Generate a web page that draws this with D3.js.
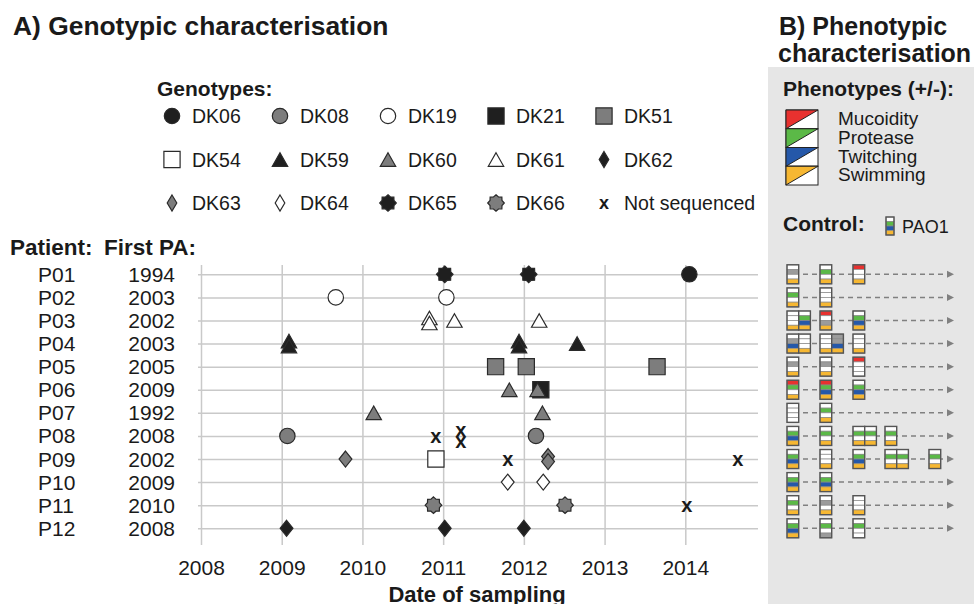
<!DOCTYPE html>
<html>
<head>
<meta charset="utf-8">
<script src="https://cdn.jsdelivr.net/npm/d3@7"></script>
<style>
  body { margin: 0; background: #fff; }
  svg text { font-family: "Liberation Sans", Arial, sans-serif; fill: #1a1a1a; }
</style>
</head>
<body>
<svg id="chart" width="974" height="604"></svg>
<script>
// Genotypic timeline (A) + phenotype boxes (B)

const patients = ["P01", "P02", "P03", "P04", "P05", "P06", "P07", "P08", "P09", "P10", "P11", "P12"];
const firstPA = ["1994", "2003", "2002", "2003", "2005", "2009", "1992", "2008", "2002", "2009", "2010", "2008"];
const yearTicks = [2008, 2009, 2010, 2011, 2012, 2013, 2014];

const legendRows = [
  ["DK06", "DK08", "DK19", "DK21", "DK51"],
  ["DK54", "DK59", "DK60", "DK61", "DK62"],
  ["DK63", "DK64", "DK65", "DK66", "NS"]
];
const legendNames = { NS: "Not sequenced" };

// [patient, sampling date (decimal year), genotype]
const samples = [
  ["P01", 2011.02, "DK65"], ["P01", 2012.06, "DK65"], ["P01", 2014.05, "DK06"],
  ["P02", 2009.67, "DK19"], ["P02", 2011.04, "DK19"],
  ["P03", 2010.83, "DK61"], ["P03", 2010.83, "DK61"], ["P03", 2011.14, "DK61"], ["P03", 2012.19, "DK61"],
  ["P04", 2009.09, "DK59"], ["P04", 2009.09, "DK59"], ["P04", 2011.94, "DK59"], ["P04", 2011.94, "DK59"], ["P04", 2012.66, "DK59"],
  ["P05", 2011.65, "DK51"], ["P05", 2012.03, "DK51"], ["P05", 2013.65, "DK51"],
  ["P06", 2011.82, "DK60"], ["P06", 2012.21, "DK21"], ["P06", 2012.17, "DK60"],
  ["P07", 2010.14, "DK60"], ["P07", 2012.23, "DK60"],
  ["P08", 2009.07, "DK08"], ["P08", 2010.91, "NS"], ["P08", 2011.22, "NS"], ["P08", 2011.22, "NS"], ["P08", 2012.15, "DK08"],
  ["P09", 2009.79, "DK63"], ["P09", 2010.91, "DK54"], ["P09", 2011.80, "NS"], ["P09", 2012.30, "DK63"], ["P09", 2012.30, "DK63"], ["P09", 2014.65, "NS"],
  ["P10", 2011.80, "DK64"], ["P10", 2012.24, "DK64"],
  ["P11", 2010.88, "DK66"], ["P11", 2012.51, "DK66"], ["P11", 2014.02, "NS"],
  ["P12", 2009.06, "DK62"], ["P12", 2011.02, "DK62"], ["P12", 2012.00, "DK62"]
];

// phenotype codes per isolate, order Mucoidity/Protease/Twitching/Swimming
// "+" positive, "-" negative, "N" not determined; groups = sampling time points
const phenotypes = {
  P01: [["-N-+"], ["-+-+"], ["+--+"]],
  P02: [["-+-+"], ["---+"]],
  P03: [["---+", "-+++"], ["+-N+"], ["-+++"]],
  P04: [["-N++", "---+"], ["---+", "NN++"], ["---+"]],
  P05: [["-N-+"], ["-N-+"], ["+---"]],
  P06: [["++-+"], ["++++"], ["-+++"]],
  P07: [["----"], ["-+-+"]],
  P08: [["-+++"], ["-+-+"], ["-+-+", "-+-+"], ["-+-+"]],
  P09: [["-+++"], ["---+"], ["-+++"], ["-+-+", "-+-+"], ["-+-+"]],
  P10: [["-+++"], ["-+++"]],
  P11: [["-+-+"], ["-N-+"], ["---+"]],
  P12: [["-+++"], ["-+-N"], ["-+--"]]
};
const phenoNames = ["Mucoidity", "Protease", "Twitching", "Swimming"];
const phenoColors = ["#e8312f", "#5bb947", "#2558a9", "#f6b732"];
const controlCode = "-+++";

const BLACK = "#1f1f1f", GRAY = "#7d7d7d", WHITE = "#ffffff", EDGE = "#2a2a2a";
const genoStyle = {
  DK06: { shape: "circle", fill: BLACK }, DK08: { shape: "circle", fill: GRAY }, DK19: { shape: "circle", fill: WHITE },
  DK21: { shape: "square", fill: BLACK }, DK51: { shape: "square", fill: GRAY }, DK54: { shape: "square", fill: WHITE },
  DK59: { shape: "triangle", fill: BLACK }, DK60: { shape: "triangle", fill: GRAY }, DK61: { shape: "triangle", fill: WHITE },
  DK62: { shape: "diamond", fill: BLACK }, DK63: { shape: "diamond", fill: GRAY }, DK64: { shape: "diamond", fill: WHITE },
  DK65: { shape: "star", fill: BLACK }, DK66: { shape: "star", fill: GRAY }, NS: { shape: "x" }
};

// custom symbol types; "size" is used as half-height
const shapes = {
  circle: { draw(c, r) { c.moveTo(r, 0); c.arc(0, 0, r, 0, 2 * Math.PI); } },
  square: { draw(c, r) { c.rect(-r, -r, 2 * r, 2 * r); } },
  triangle: { draw(c, r) { c.moveTo(0, -r * 0.88); c.lineTo(r, r * 0.88); c.lineTo(-r, r * 0.88); c.closePath(); } },
  diamond: { draw(c, r) { const w = r * 0.8; c.moveTo(0, -r); c.lineTo(w, 0); c.lineTo(0, r); c.lineTo(-w, 0); c.closePath(); } },
  diamondNarrow: { draw(c, r) { const w = r * 0.6; c.moveTo(0, -r); c.lineTo(w, 0); c.lineTo(0, r); c.lineTo(-w, 0); c.closePath(); } },
  star: { draw(c, r) {
    for (let i = 0; i < 16; i++) {
      const a = i * Math.PI / 8 - Math.PI / 2, rr = i % 2 ? r * 0.78 : r;
      i ? c.lineTo(rr * Math.cos(a), rr * Math.sin(a)) : c.moveTo(rr * Math.cos(a), rr * Math.sin(a));
    }
    c.closePath();
  } }
};
const shapeSize = { circle: 7.7, square: 8.1, triangle: 7.7, diamond: 8, diamondNarrow: 8, star: 8.3 };

const svg = d3.select("#chart");

// ---------- panel B background
svg.append("rect").attr("x", 768).attr("y", 67).attr("width", 206).attr("height", 537).attr("fill", "#e6e6e6");

// ---------- titles
svg.append("text").attr("x", 13).attr("y", 35).attr("font-size", 26.4).attr("font-weight", "bold")
  .text("A) Genotypic characterisation");
svg.append("text").attr("x", 779).attr("y", 35).attr("font-size", 25).attr("font-weight", "bold").text("B) Phenotypic");
svg.append("text").attr("x", 778).attr("y", 62).attr("font-size", 25).attr("font-weight", "bold").text("characterisation");

// ---------- scales
const x = d3.scaleLinear().domain([2008, 2014]).range([201, 685.3]);
const y = d3.scalePoint().domain(patients).range([274.3, 528.3]);
const gridTop = 265, gridBottom = 545, gridLeft = 198, gridRight = 758;

// grid
svg.append("g").attr("transform", `translate(0,${gridBottom})`)
  .call(d3.axisBottom(x).tickValues(yearTicks).tickSize(-(gridBottom - gridTop)).tickFormat(""))
  .call(g => g.select(".domain").remove())
  .call(g => g.selectAll("line").attr("stroke", "#c9c9c9").attr("stroke-width", 1.5));
svg.append("g").attr("transform", `translate(${gridLeft},0)`)
  .call(d3.axisLeft(y).tickSize(-(gridRight - gridLeft)).tickFormat(""))
  .call(g => g.select(".domain").remove())
  .call(g => g.selectAll("line").attr("stroke", "#c9c9c9").attr("stroke-width", 1.5));

// x tick labels
svg.append("g").attr("transform", `translate(0,${gridBottom})`)
  .call(d3.axisBottom(x).tickValues(yearTicks).tickSize(0).tickPadding(15).tickFormat(d3.format("d")))
  .call(g => g.select(".domain").remove())
  .call(g => g.selectAll("text").attr("font-size", 21).attr("font-family", "Liberation Sans, Arial, sans-serif").attr("fill", "#1a1a1a"));
svg.append("text").attr("x", 477).attr("y", 602).attr("text-anchor", "middle")
  .attr("font-size", 22).attr("font-weight", "bold").text("Date of sampling");

// row labels
svg.append("text").attr("x", 10).attr("y", 255).attr("font-size", 22.5).attr("font-weight", "bold").text("Patient:");
svg.append("text").attr("x", 104).attr("y", 255).attr("font-size", 22.5).attr("font-weight", "bold").text("First PA:");
patients.forEach((p, i) => {
  svg.append("text").attr("x", 38).attr("y", y(p) + 7.5).attr("font-size", 21).text(p);
  svg.append("text").attr("x", 175).attr("y", y(p) + 7.5).attr("font-size", 21).attr("text-anchor", "end").text(firstPA[i]);
});

// ---------- markers
function drawMarker(g, geno, cx, cy, legend) {
  const st = genoStyle[geno];
  if (st.shape === "x") {
    g.append("text").attr("x", cx).attr("y", cy).attr("dy", "0.33em").attr("text-anchor", "middle")
      .attr("font-size", legend ? 18 : 20).attr("font-weight", "bold").text("x");
    return;
  }
  const shape = legend && st.shape === "diamond" ? "diamondNarrow" : st.shape;
  g.append("path")
    .attr("transform", `translate(${cx},${cy})`)
    .attr("d", d3.symbol().type(shapes[shape]).size(shapeSize[shape])())
    .attr("fill", st.fill).attr("stroke", EDGE).attr("stroke-width", 1.2);
}

// stack duplicates (same patient/date/genotype) with a small vertical offset
const stacks = d3.group(samples, d => d.join("|"));
const marks = svg.append("g");
stacks.forEach(list => {
  const [p, date, geno] = list[0];
  const step = geno === "NS" ? 11 : 5;
  list.forEach((d, i) => {
    drawMarker(marks, geno, x(date), y(p) + (i - (list.length - 1) / 2) * step, false);
  });
});

// ---------- genotype legend
svg.append("text").attr("x", 157).attr("y", 96).attr("font-size", 21).attr("font-weight", "bold").text("Genotypes:");
const legCol = d3.scalePoint().domain(d3.range(5)).range([172, 604]);
const legRow = d3.scalePoint().domain(d3.range(3)).range([116, 203]);
const leg = svg.append("g");
legendRows.forEach((row, r) => row.forEach((geno, c) => {
  drawMarker(leg, geno, legCol(c), legRow(r), true);
  leg.append("text").attr("x", legCol(c) + 20).attr("y", legRow(r) + 7).attr("font-size", 19.5)
    .text(legendNames[geno] || geno);
}));

// ---------- panel B: phenotype legend
svg.append("text").attr("x", 783).attr("y", 96).attr("font-size", 21).attr("font-weight", "bold").text("Phenotypes (+/-):");
const legCellY = d3.scaleBand().domain(d3.range(4)).range([110, 185]);
const pl = svg.append("g");
phenoNames.forEach((name, i) => {
  const x0 = 786, x1 = 818, y0 = legCellY(i), y1 = y0 + legCellY.bandwidth();
  pl.append("rect").attr("x", x0).attr("y", y0).attr("width", x1 - x0).attr("height", y1 - y0)
    .attr("fill", "#fff").attr("stroke", "#222").attr("stroke-width", 1);
  pl.append("path").attr("d", `M${x0},${y0}L${x1},${y0}L${x0},${y1}Z`).attr("fill", phenoColors[i])
    .attr("stroke", "#222").attr("stroke-width", 1);
  pl.append("text").attr("x", 838).attr("y", y0 + 15).attr("font-size", 19).text(name);
});

svg.append("text").attr("x", 783).attr("y", 231).attr("font-size", 21).attr("font-weight", "bold").text("Control:");

// isolate box: 4 stacked cells
const BOX_W = 11.7, BOX_H = 19;
function drawBox(g, code, bx, by, w, h) {
  const cy = d3.scaleBand().domain(d3.range(4)).range([by, by + h]);
  code.split("").forEach((v, i) => {
    g.append("rect").attr("x", bx).attr("y", cy(i)).attr("width", w).attr("height", cy.bandwidth())
      .attr("fill", v === "+" ? phenoColors[i] : v === "N" ? "#9b9b9b" : "#fff")
      .attr("stroke", "#8a8a8a").attr("stroke-width", 0.7);
  });
  g.append("rect").attr("x", bx).attr("y", by).attr("width", w).attr("height", h)
    .attr("fill", "none").attr("stroke", "#555").attr("stroke-width", 1.4);
}

drawBox(svg.append("g"), controlCode, 886, 217, 8, 18);
svg.append("text").attr("x", 902).attr("y", 233).attr("font-size", 18).text("PAO1");

// ---------- panel B: timeline of isolates
const colX = d3.scaleOrdinal().domain(d3.range(5)).range([787, 820, 853, 885, 929]);
const pb = svg.append("g");
patients.forEach(p => {
  const yy = y(p);
  pb.append("line").attr("x1", 803).attr("x2", 947).attr("y1", yy).attr("y2", yy)
    .attr("stroke", "#808080").attr("stroke-width", 1.5).attr("stroke-dasharray", "5,4");
  pb.append("path").attr("d", `M${947},${yy - 3.5}L${954},${yy}L${947},${yy + 3.5}Z`).attr("fill", "#808080");
  phenotypes[p].forEach((group, j) => {
    group.forEach((code, k) => drawBox(pb, code, colX(j) + k * BOX_W, yy - BOX_H / 2, BOX_W, BOX_H));
  });
});
</script>
</body>
</html>
